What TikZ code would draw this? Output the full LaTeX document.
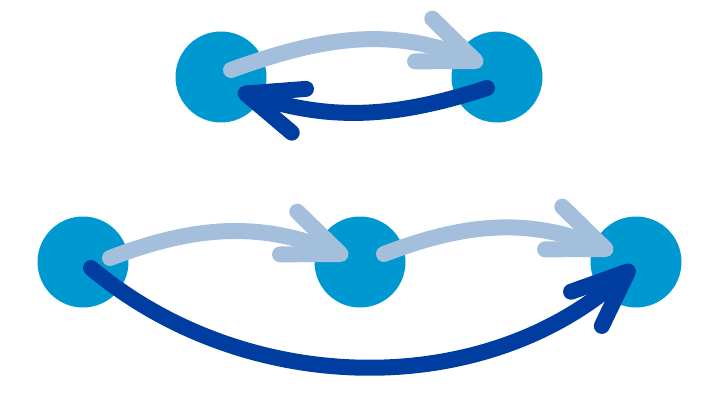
\documentclass[tikz,border=0pt]{standalone}
\usepackage{xcolor}
\usepackage{tikz}
\usetikzlibrary{arrows.meta}
\usetikzlibrary{calc}

\definecolor{nodeblue}{HTML}{0098D0}
\definecolor{paleblue}{HTML}{A3BFDC}
\definecolor{deepblue}{HTML}{003DA0}

\begin{document}
\begin{tikzpicture}[x=1pt,y=1pt,line cap=round,
  tip/.style={-{Straight Barb[length=56pt,width=46pt,round]}, line width=16pt}]
 				 \tikzstyle{dot}=[circle, inner sep=0pt, minimum size=91pt, fill=nodeblue]
 				 \tikzstyle{pale}=[tip, draw=paleblue]
 				 \tikzstyle{deep}=[tip, draw=deepblue]
						\useasboundingbox (0,0) rectangle (720,405);
						% upper pair
						\node[dot] (TL) at (221,328) {};
						\node[dot] (TR) at (497,328) {};
						% lower row
						\node[dot] (BL) at (83,143) {};
						\node[dot] (BM) at (360,143) {};
						\node[dot] (BR) at (636,143) {};
						
						\path
							([shift={(10,7)}]TL.center) edge[pale, out=20, in=158] ([shift={(-14,13)}]TR.center)
							([shift={(-10,-11)}]TR.center) edge[deep, out=198, in=342] ([shift={(17,-14)}]TL.center)
							([shift={(27,4)}]BL.center) edge[pale, out=21, in=158] ([shift={(-12,5)}]BM.center)
							([shift={(24,8)}]BM.center) edge[pale, out=21, in=158] ([shift={(-23,10)}]BR.center)
							([shift={(8,-6)}]BL.center) edge[deep, out=-40, in=222, looseness=0.95] ([shift={(-2,-4)}]BR.center);
			
 				\end{tikzpicture}
\end{document}
